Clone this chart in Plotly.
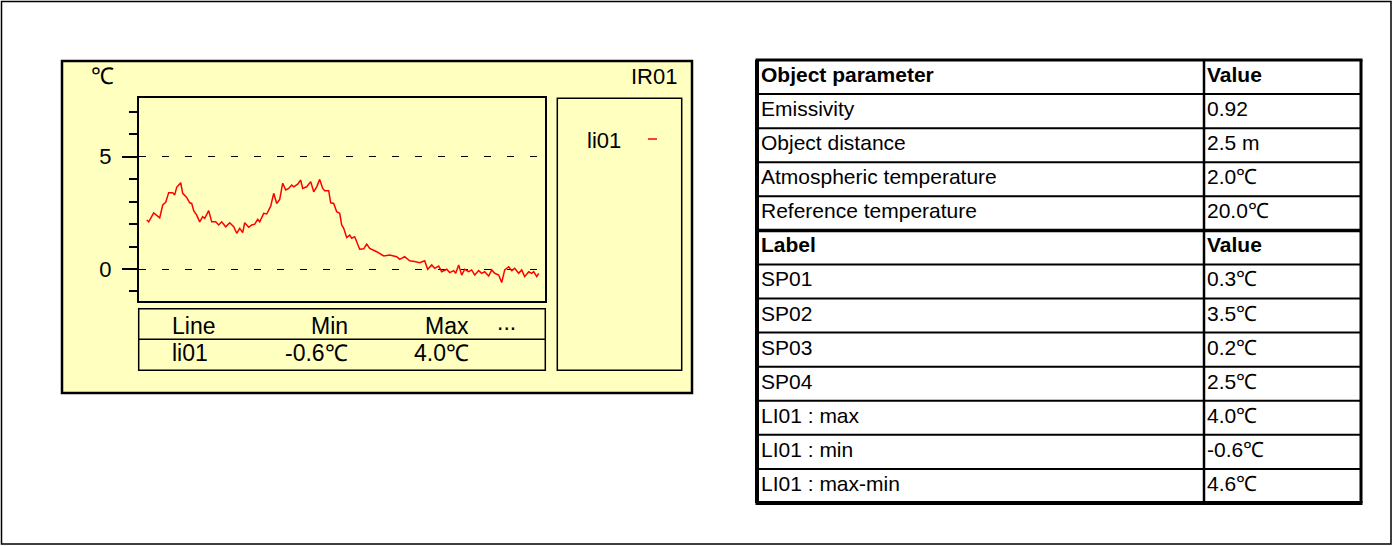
import plotly.graph_objects as go

W, H = 1393, 546

# ---------------- data ----------------
profile_pos = [8, 10, 15, 21, 24, 27, 30, 34, 36, 38, 42, 44, 48, 51, 53, 55, 58, 61, 64, 66,
               70, 73, 77, 80, 83, 87, 91, 95, 98, 101, 104, 106, 110, 113, 116, 119, 121, 125, 128, 132,
               135, 138, 141, 144, 147, 150, 153, 155, 159, 162, 164, 168, 172, 175, 178, 181, 184, 186, 190, 192,
               195, 198, 201, 203, 205, 208, 211, 213, 216, 219, 221, 225, 228, 231, 235, 238, 245, 251, 258, 261,
               266, 271, 276, 281, 286, 289, 293, 296, 300, 303, 308, 311, 315, 317, 320, 323, 326, 330, 333, 336,
               340, 343, 346, 350, 353, 356, 360, 363, 366, 370, 373, 376, 380, 383, 386, 390, 393, 395, 398, 400]
profile_temp = [2.18, 2.10, 2.50, 2.28, 2.85, 2.97, 3.40, 3.40, 3.30, 3.64, 3.84, 3.37, 3.19, 2.95, 2.92, 2.60, 2.40, 2.10, 2.33, 2.26,
                2.60, 2.10, 2.10, 1.96, 2.10, 1.88, 2.06, 1.88, 1.59, 1.81, 1.62, 2.06, 1.86, 1.96, 2.00, 2.21, 2.10, 2.48, 2.45, 2.80,
                3.37, 2.92, 3.10, 3.82, 3.52, 3.59, 3.74, 3.66, 3.78, 3.96, 3.59, 3.66, 3.89, 3.44, 3.66, 3.99, 3.59, 3.49, 3.49, 2.95,
                2.92, 2.55, 2.48, 1.96, 1.81, 1.40, 1.51, 1.37, 1.44, 1.07, 0.88, 0.90, 1.11, 0.92, 0.85, 0.77, 0.58, 0.62, 0.55, 0.43,
                0.55, 0.37, 0.33, 0.28, 0.37, -0.01, 0.18, 0.03, 0.13, -0.12, -0.01, -0.16, -0.07, -0.19, 0.18, -0.27, -0.01, -0.12, -0.04, -0.27,
                -0.07, -0.19, -0.12, -0.31, -0.04, -0.19, -0.27, -0.60, -0.04, 0.10, -0.07, 0.03, -0.19, -0.04, -0.34, -0.12, -0.19, -0.12, -0.34, -0.19]

image_name = "IR01"
unit_label = "℃"
line_names = ["li01"]
line_min = ["-0.6℃"]
line_max = ["4.0℃"]
summary_headers = ["Line", "Min", "Max", "..."]

param_header = ["Object parameter", "Value"]
param_labels = ["Emissivity", "Object distance", "Atmospheric temperature", "Reference temperature"]
param_values = ["0.92", "2.5 m", "2.0℃", "20.0℃"]
label_header = ["Label", "Value"]
label_names = ["SP01", "SP02", "SP03", "SP04", "LI01 : max", "LI01 : min", "LI01 : max-min"]
label_values = ["0.3℃", "3.5℃", "0.2℃", "2.5℃", "4.0℃", "-0.6℃", "4.6℃"]

# ---------------- helpers ----------------
FONT = "Liberation Sans, Arial, sans-serif"
YELLOW = "#FFFFC0"

def fx(x):
    return x / W

def fy(y):
    return 1 - y / H

shapes = []
annotations = []

def rect(x0, y0, x1, y1, lw=1.5, fill=None, layer="above"):
    shapes.append(dict(type="rect", xref="paper", yref="paper",
                       x0=fx(x0), x1=fx(x1), y0=fy(y0), y1=fy(y1),
                       line=dict(color="black", width=lw),
                       fillcolor=fill if fill else "rgba(0,0,0,0)", layer=layer))

def hline(x0, x1, y, lw=1.5, color="black"):
    shapes.append(dict(type="line", xref="paper", yref="paper",
                       x0=fx(x0), x1=fx(x1), y0=fy(y), y1=fy(y),
                       line=dict(color=color, width=lw)))

def vline(x, y0, y1, lw=1.5):
    shapes.append(dict(type="line", xref="paper", yref="paper",
                       x0=fx(x), x1=fx(x), y0=fy(y0), y1=fy(y1),
                       line=dict(color="black", width=lw)))

def text(t, x, y, anchor="left", size=22, bold=False):
    if bold:
        t = "<b>" + t + "</b>"
    annotations.append(dict(text=t, xref="paper", yref="paper", x=fx(x), y=fy(y),
                            xanchor=anchor, yanchor="middle", showarrow=False,
                            font=dict(family=FONT, size=size, color="black")))

# ---------------- figure ----------------
fig = go.Figure()

fig.add_trace(go.Scatter(x=profile_pos, y=profile_temp, mode="lines",
                         line=dict(color="#FF0000", width=1.5), name=line_names[0],
                         showlegend=False))

# page border and yellow panel
rect(1.5, 1.5, 1391, 544, lw=1.5, layer="below")
rect(62, 61, 692, 393, lw=2.5, fill=YELLOW, layer="below")

# chart header texts
text(unit_label, 89, 76, size=23)
text(image_name, 679, 77, anchor="right")

# legend box
rect(557.3, 98.3, 681.7, 370.3, lw=1.5)
text(line_names[0], 585, 140)
hline(648, 657, 139, lw=1.5, color="#FF0000")

# summary table under the chart
rect(138.7, 308.7, 545.3, 370.3, lw=1.5)
hline(138.7, 545.3, 339.3, lw=1.5)
text(summary_headers[0], 170, 325.5, size=23)
text(summary_headers[1], 350, 325.5, anchor="right", size=23)
text(summary_headers[2], 471, 325.5, anchor="right", size=23)
text(summary_headers[3], 495, 322, anchor="left", size=23)
for i, nm in enumerate(line_names):
    yy = 353 + i * 30
    text(nm, 170, yy, size=23)
    text(line_min[i], 350, yy, anchor="right", size=23)
    text(line_max[i], 471, yy, anchor="right", size=23)

# right-hand table
TX0, TXD, TX1 = 757, 1204, 1361
TY0, TY1 = 60, 503
rows = ([(param_header[0], param_header[1], True)]
        + [(a, b, False) for a, b in zip(param_labels, param_values)]
        + [(label_header[0], label_header[1], True)]
        + [(a, b, False) for a, b in zip(label_names, label_values)])
n = len(rows)
rh = (TY1 - TY0) / n
for i, (a, b, bold) in enumerate(rows):
    ytop = TY0 + i * rh
    text(a, 759, ytop + 14.5, size=21, bold=bold)
    text(b, 1205, ytop + 14.5, size=21, bold=bold)
for i in range(1, n):
    lw = 3.5 if i == len(param_labels) + 1 else 2
    hline(TX0, TX1, TY0 + i * rh, lw=lw)
hline(TX0 - 1.5, TX1 + 1.5, TY0, lw=3)
hline(TX0 - 1.5, TX1 + 1.5, TY1, lw=4)
vline(TX0, TY0, TY1, lw=4)
vline(TXD, TY0, TY1, lw=2.5)
vline(TX1, TY0, TY1, lw=3)

fig.update_layout(
    width=W, height=H, autosize=False,
    margin=dict(l=0, r=0, t=0, b=0),
    paper_bgcolor="white", plot_bgcolor=YELLOW,
    showlegend=False,
    shapes=shapes, annotations=annotations,
    xaxis=dict(domain=[fx(138.7), fx(545.3)], range=[0, 406.6],
               showgrid=False, zeroline=False, showticklabels=False, ticks="",
               showline=True, mirror=True, linecolor="black", linewidth=1.5,
               fixedrange=True),
    yaxis=dict(domain=[fy(300.7), fy(98.3)], range=[-1.41, 7.6],
               tickvals=[0, 5], ticktext=["0", "5"], ticks="outside", ticklen=15,
               tickwidth=1.5, tickcolor="black",
               minor=dict(dtick=1, tick0=0, ticks="outside", ticklen=8, tickwidth=1.5,
                          tickcolor="black", showgrid=False),
               showgrid=True, gridcolor="black", gridwidth=1.2, griddash="7px,16px",
               zeroline=False, showline=True, mirror=True, linecolor="black", linewidth=1.5,
               tickfont=dict(family=FONT, size=22, color="black"),
               ticklabelstandoff=6, fixedrange=True),
)

fig.write_html("out.html",
               config={"displayModeBar": False},
               post_script="document.body.style.margin='0px';document.body.style.overflow='hidden';")
